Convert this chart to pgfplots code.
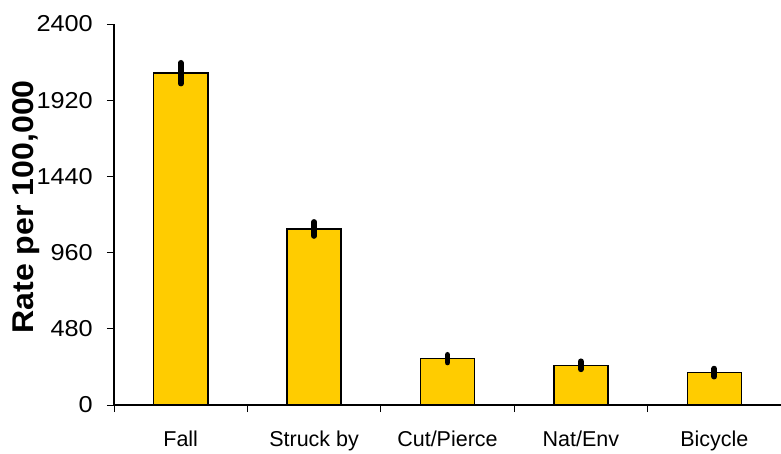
\documentclass[border=0pt]{standalone}
\usepackage{fontspec}
\setmainfont{Liberation Sans}
\newfontfamily\tickfont[FakeStretch=1.1]{Liberation Sans}
\newfontfamily\labfont[FakeStretch=1.07]{Liberation Sans}
\usepackage{pgfplots}
\usepackage{pgfplotstable}
\pgfplotsset{compat=1.18}
\definecolor{barfill}{HTML}{FFCC00}
\pgfplotstableread{
x y e
0 2090 65
1 1109 44
2 292 24
3 250 25
4 204 25
}\ratedata
\begin{document}
\begin{tikzpicture}
\useasboundingbox (-114pt,-48pt) rectangle (667pt,405pt);
\begin{axis}[
  at={(0pt,0pt)}, anchor=south west,
  scale only axis, width=667pt, height=381pt,
  xmin=-0.5, xmax=4.5, ymin=0, ymax=2400,
  axis lines*=left,
  axis line style={black, line width=1.4pt},
  tick style={black, line width=0.8pt},
  tick align=outside, major tick length=7pt,
  ytick={0,480,...,2400},
  xtick={-0.5,0.5,...,4.5},
  xticklabels={},
  extra x ticks={0,1,2,3,4},
  extra x tick labels={Fall,Struck by,Cut/Pierce,Nat/Env,Bicycle},
  extra x tick style={major tick length=0pt, tick style={draw=none}},
  xticklabel style={font=\fontsize{21.5}{21.5}\selectfont, anchor=base, inner sep=0pt, yshift=-41pt},
  yticklabel style={font=\tickfont\fontsize{23}{23}\selectfont, anchor=east, inner sep=0pt, xshift=-14pt},
  /pgf/number format/assume math mode=true,
  /pgf/number format/1000 sep={},
  scaled y ticks=false,
  ylabel={Rate per 100,000},
  ylabel style={font=\labfont\fontsize{30}{30}\selectfont\bfseries, at={(axis description cs:-0.131,0.52)}, anchor=center},
  clip=false,
]
\addplot[ybar, bar width=54pt, fill=barfill, draw=black, line width=1.6pt,
  error bars/.cd, y dir=both, y explicit, error mark=none,
  error bar style={line width=5.8pt, line cap=round, black}]
  table[x=x, y=y, y error=e] {\ratedata};
\end{axis}
\end{tikzpicture}
\end{document}
